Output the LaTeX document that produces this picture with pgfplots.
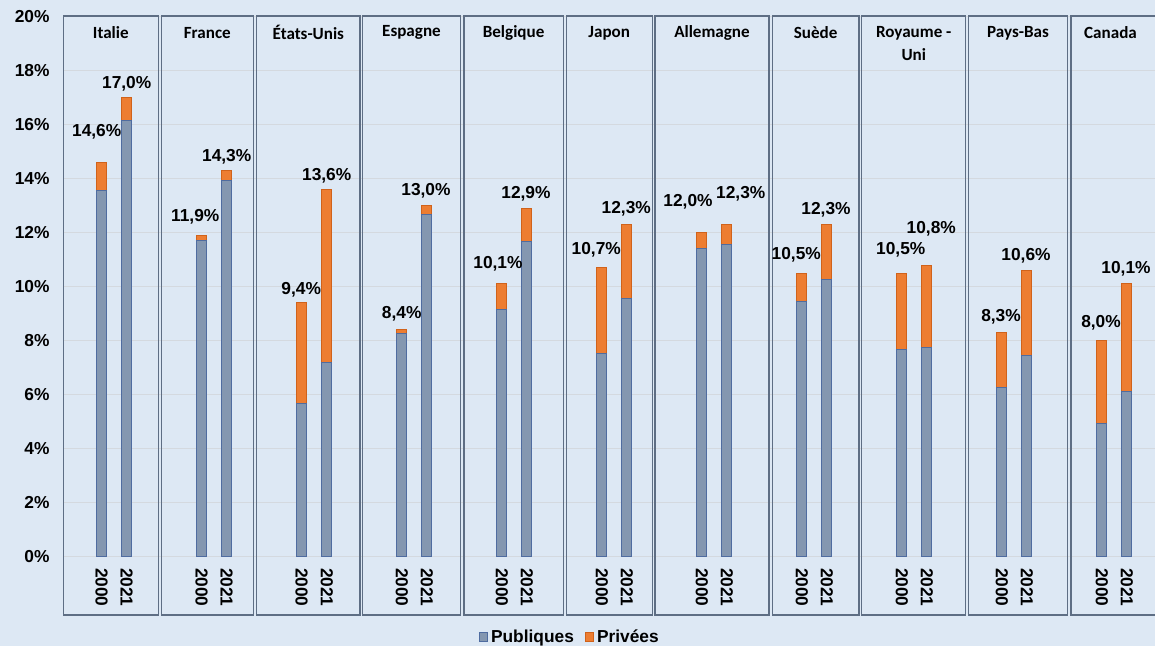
\documentclass[border=0pt]{standalone}
\usepackage{pgfplots}
\pgfplotsset{compat=1.18}
\usepackage{pgfplotstable}
\usepackage{fontspec}
\setmainfont{Liberation Sans}
\newfontfamily\calibri{Carlito}
\definecolor{bgcol}{HTML}{DDE8F4}
\definecolor{pubfill}{HTML}{8497B0}
\definecolor{pubedge}{HTML}{4F6CA0}
\definecolor{privfill}{HTML}{ED7D31}
\definecolor{privedge}{HTML}{D0621A}
\definecolor{boxcol}{HTML}{5E6E84}
\definecolor{gridcol}{HTML}{D4D9DF}

\pgfplotstableread{
x pub priv
1 13.55 1.05
2 16.15 0.85
5 11.70 0.20
6 13.95 0.35
9 5.68 3.72
10 7.19 6.41
13 8.28 0.12
14 12.68 0.32
17 9.14 0.96
18 11.69 1.21
21 7.53 3.17
22 9.57 2.73
25 11.42 0.58
26 11.58 0.72
29 9.44 1.06
30 10.27 2.03
33 7.66 2.84
34 7.76 3.04
37 6.26 2.04
38 7.44 3.16
41 4.94 3.06
42 6.10 4.00
}\bardata

\pgfplotstableread{
lx ly v
0.80 15.74 14.6
2.00 17.53 17.0
4.74 12.59 11.9
6.00 14.82 14.3
8.98 9.90 9.4
10.00 14.11 13.6
13.00 9.01 8.4
13.97 13.56 13.0
16.85 10.83 10.1
17.97 13.43 12.9
20.78 11.36 10.7
21.98 12.90 12.3
24.45 13.15 12.0
26.56 13.43 12.3
28.78 11.20 10.5
29.97 12.84 12.3
32.96 11.36 10.5
34.18 12.16 10.8
36.97 8.89 8.3
37.97 11.15 10.6
40.97 8.67 8.0
41.97 10.68 10.1
}\labeldata

\newcommand{\numfont}{\bfseries\fontsize{13}{15}\selectfont}
\newcommand{\ctyfont}{\calibri\bfseries\fontsize{12.8}{14}\selectfont}

\tikzset{cbox/.style={draw=boxcol, line width=1pt}, cty/.style={font=\ctyfont, text=black, inner sep=0pt}}

\begin{document}
\begin{tikzpicture}
\useasboundingbox (0,0) rectangle (866.25pt,484.5pt);
\fill[bgcol] (0,0) rectangle (866.25pt,484.5pt);
\begin{axis}[
  at={(48.15pt,66.975pt)}, anchor=south west,
  scale only axis, width=818.1pt, height=405pt,
  xmin=-0.5, xmax=43.13, ymin=0, ymax=20,
  enlargelimits=false, clip=false,
  ybar stacked, bar width=7.3pt,
  axis line style={draw=none},
  major tick length=0pt,
  ymajorgrids, grid style={gridcol, line width=0.9pt},
  ytick={0,2,...,20},
  yticklabels={0\%,2\%,4\%,6\%,8\%,10\%,12\%,14\%,16\%,18\%,20\%},
  yticklabel style={font=\numfont, anchor=east, xshift=-7.5pt},
  xtick={1,2,5,6,9,10,13,14,17,18,21,22,25,26,29,30,33,34,37,38,41,42},
  xticklabels={2000,2021,2000,2021,2000,2021,2000,2021,2000,2021,2000,2021,2000,2021,2000,2021,2000,2021,2000,2021,2000,2021},
  xticklabel style={font=\numfont, yshift=-5pt, rotate=-90, anchor=west},
  legend style={at={(0.4637,-0.1487)}, anchor=center, draw=none, fill=none,
    legend columns=2, font=\numfont,
    /tikz/every even column/.append style={column sep=6pt}},
  legend image code/.code={\draw[#1, line width=0.75pt] (0pt,-3.3pt) rectangle (6.6pt,3.3pt);},
]
\addplot[fill=pubfill, draw=pubedge, line width=0.75pt] table[x=x,y=pub]{\bardata};
\addplot[fill=privfill, draw=privedge, line width=0.75pt] table[x=x,y=priv]{\bardata};
\legend{Publiques,Privées}

\draw[cbox] (axis cs:-0.536,-2.16) rectangle (axis cs:3.264,20.03);
\draw[cbox] (axis cs:3.384,-2.16) rectangle (axis cs:7.064,20.03);
\draw[cbox] (axis cs:7.20,-2.16) rectangle (axis cs:11.33,20.03);
\draw[cbox] (axis cs:11.44,-2.16) rectangle (axis cs:15.34,20.03);
\draw[cbox] (axis cs:15.49,-2.16) rectangle (axis cs:19.46,20.03);
\draw[cbox] (axis cs:19.58,-2.16) rectangle (axis cs:23.02,20.03);
\draw[cbox] (axis cs:23.13,-2.16) rectangle (axis cs:27.69,20.03);
\draw[cbox] (axis cs:27.82,-2.16) rectangle (axis cs:31.29,20.03);
\draw[cbox] (axis cs:31.40,-2.16) rectangle (axis cs:35.56,20.03);
\draw[cbox] (axis cs:35.68,-2.16) rectangle (axis cs:39.62,20.03);
\draw[cbox] (axis cs:39.77,-2.16) rectangle (axis cs:43.60,20.03);
\node[cty] at (axis cs:1.364,19.40) {Italie};
\node[cty] at (axis cs:5.224,19.40) {France};
\node[cty] at (axis cs:9.265,19.40) {États-Unis};
\node[cty] at (axis cs:13.39,19.40) {Espagne};
\node[cty] at (axis cs:17.475,19.40) {Belgique};
\node[cty] at (axis cs:21.30,19.40) {Japon};
\node[cty] at (axis cs:25.41,19.40) {Allemagne};
\node[cty] at (axis cs:29.555,19.40) {Suède};
\node[cty] at (axis cs:33.48,19.40) {Royaume -};
\node[cty] at (axis cs:33.48,18.59) {Uni};
\node[cty] at (axis cs:37.65,19.40) {Pays-Bas};
\node[cty] at (axis cs:41.35,19.40) {Canada};
\end{axis}

\begin{axis}[
  at={(48.15pt,66.975pt)}, anchor=south west,
  scale only axis, width=818.1pt, height=405pt,
  xmin=-0.5, xmax=43.13, ymin=0, ymax=20,
  enlargelimits=false, clip=false, hide axis,
  /pgf/number format/assume math mode=true,
]
\addplot[only marks, mark=*, mark size=0pt, mark options={draw=none, fill=none},
  point meta=explicit,
  nodes near coords={\pgfmathprintnumber[fixed, fixed zerofill, precision=1, use comma]{\pgfplotspointmeta}\%},
  nodes near coords style={anchor=center, inner sep=0pt, font=\numfont, text=black},
] table[x=lx, y=ly, meta=v]{\labeldata};
\end{axis}
\end{tikzpicture}
\end{document}
